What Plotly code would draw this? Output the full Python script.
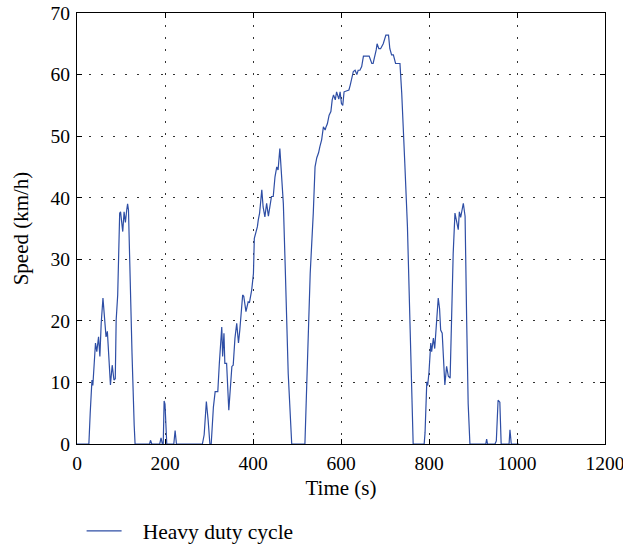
import plotly.graph_objects as go

time_s = [0, 27, 30, 34, 36, 38, 42, 45, 49, 52, 55, 59, 62, 66, 69, 72, 76, 80, 84, 87, 89, 92.5,
          97, 99, 102, 104, 107, 110, 113, 115, 117, 121, 125, 130, 132,
          165, 167, 170, 188, 191, 194, 196, 198, 200, 204, 220, 223, 226, 285, 289, 294, 298, 302, 305,
          310, 314, 320, 323.5, 326.5, 329, 331, 334, 336, 340, 345, 349, 352, 355, 359, 363, 367, 370,
          376.5, 379, 384, 389, 392, 397, 401, 403, 407, 410, 412, 415, 420, 423, 427, 431, 435, 442,
          446, 450, 454, 457, 461, 465, 469, 473, 477, 480, 488, 518, 522, 526, 530, 537, 541, 545,
          549, 552, 556, 560, 564, 566, 569, 573, 577, 580, 583, 587, 590, 595, 598, 601, 604, 607,
          618, 621, 624, 628, 632, 636, 639, 643, 647, 651, 654, 664, 670, 673, 680, 682, 686, 690,
          696, 702, 708, 711, 715, 719, 724, 734, 738, 742, 745, 751, 755, 758, 762, 764, 789, 791,
          795, 797, 800, 804, 806, 808, 810, 813, 817.5, 821, 824, 826.5, 830, 832.5, 836, 840, 844,
          848, 851.5, 855, 859, 862, 866.5, 869, 872, 878, 882, 885.6, 889, 893, 929, 931, 933, 950,
          953, 957, 961, 964, 982, 984, 987, 1005]
speed_kmh = [0, 0, 5, 10.4, 9.5, 11.7, 16.4, 15, 17.4, 14.2, 19.6, 23.7, 20.7, 17.4, 18.3, 14.2, 9.6, 12.8, 10.4, 10.6, 20.1, 24.2,
             37.5, 37.7, 36, 34.5, 37.7, 36, 38, 39, 38, 25, 14.8, 3, 0,
             0, 0.6, 0, 0, 1, 0, 0, 7, 6.5, 0, 0, 2.2, 0, 0, 1.5, 6.9, 3.9, 0, 0,
             6, 8.5, 8.5, 13.1, 16.9, 19, 14.2, 18, 13.1, 13.1, 5.5, 9.3, 12.6, 12.8, 17.2, 19.6, 16.4, 18.5,
             24.2, 24, 21.5, 23.1, 23, 25, 27.7, 33.4, 34.5, 35.3, 36.4, 37.5, 41.3, 38.5, 36.9, 39.1, 37, 40.2,
             40.2, 43.4, 45, 44.5, 48, 42.3, 39, 29.3, 20.1, 11.5, 0, 0, 9.3, 19.6, 27.7, 37.5, 45, 46.5,
             47.3, 48.3, 49.4, 51.5, 51, 51.5, 52, 53.4, 54, 55.9, 56.7, 55.9, 57.2, 56, 57.2, 55.3, 55, 57.2,
             57.5, 58.3, 59.4, 60.5, 60.7, 60, 60.7, 60.7, 61.3, 63, 63, 63, 61.8, 61.8, 64, 65, 64.2, 64.2,
             65, 66.4, 66.4, 64.2, 63.2, 63.2, 61.8, 61.8, 57, 51.5, 45.6, 35.3, 22.8, 14.7, 3.4, 0, 0, 1.8,
             10.1, 9.5, 11.7, 16.4, 15, 16, 17.2, 15.5, 19.9, 23.7, 22, 18.5, 18, 14.7, 9.6, 12.6, 11,
             10.7, 23.9, 31, 37.5, 36.5, 34.8, 37.7, 36.8, 39.1, 37, 20.1, 6.6, 0, 0, 0.8, 0, 0,
             0.5, 7.1, 6.8, 0, 0, 2.3, 0, 0]

x_ticks = [0, 200, 400, 600, 800, 1000, 1200]
y_ticks = [0, 10, 20, 30, 40, 50, 60, 70]

FONT = "Liberation Serif"

fig = go.Figure()
fig.add_trace(go.Scatter(x=time_s, y=speed_kmh, mode="lines",
                         name="\u00a0\u00a0\u00a0Heavy duty cycle",
                         line=dict(color="rgb(46,78,165)", width=1.2)))

axis_common = dict(showline=True, linecolor="black", linewidth=1, mirror="ticks",
                   ticks="inside", ticklen=5, tickcolor="black", automargin=False,
                   ticklabeloverflow="allow",
                   showgrid=True, gridcolor="#333333", gridwidth=1, griddash="2px,10px",
                   zeroline=False, tickfont=dict(family=FONT, size=19.5, color="black"))

fig.update_xaxes(range=[0, 1200], tickvals=x_ticks, ticktext=[str(v) for v in x_ticks],
                 ticklabelstandoff=2,
                 title=dict(text="Time (s)", font=dict(family=FONT, size=21, color="black"), standoff=6),
                 **axis_common)
fig.update_yaxes(range=[0, 70], tickvals=y_ticks, ticktext=[str(v) for v in y_ticks],
                 ticklabelstandoff=2,
                 title=dict(text="Speed (km/h)", font=dict(family=FONT, size=21, color="black"), standoff=16),
                 **axis_common)

fig.update_layout(
    width=623, height=546,
    margin=dict(l=77, r=18, t=13, b=102, autoexpand=False),
    plot_bgcolor="white", paper_bgcolor="white",
    showlegend=True,
    legend=dict(orientation="h", xref="paper", yref="container", x=0.0087, y=0.0275,
                xanchor="left", yanchor="middle", itemwidth=35,
                font=dict(family=FONT, size=21.5, color="black"), bgcolor="rgba(0,0,0,0)"),
)

# remove the browser's default 8px body margin so the figure fills the window exactly
fig.write_html("out.html", config={"displayModeBar": False},
               post_script="document.body.style.margin='0';")
